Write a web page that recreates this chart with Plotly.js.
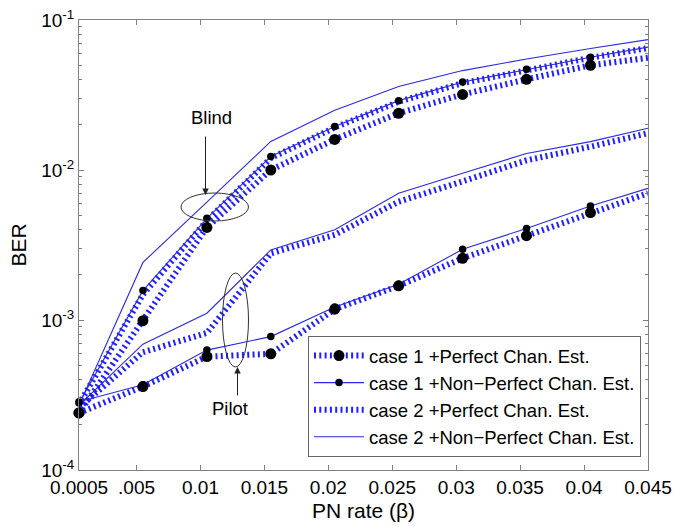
<!DOCTYPE html>
<html><head><meta charset="utf-8">
<script src="https://cdn.plot.ly/plotly-3.0.1.min.js"></script>
<style>html,body{margin:0;padding:0;background:#fff}#chart{width:676px;height:527px}</style>
</head><body><div id="chart"></div>
<script>
// PN rate (beta) sample points; last value is where the curves meet the right edge
const betas = [0.0005, 0.0055, 0.0105, 0.0155, 0.0205, 0.0255, 0.0305, 0.0355, 0.0405, 0.045];

const xTickVals = [0.0005, 0.005, 0.01, 0.015, 0.02, 0.025, 0.03, 0.035, 0.04, 0.045];
const xTickText = ['0.0005', '.005', '0.01', '0.015', '0.02', '0.025', '0.03', '0.035', '0.04', '0.045'];
const yTickVals = [1e-4, 1e-3, 1e-2, 1e-1];
const yTickText = ['10<sup>-4</sup>', '10<sup>-3</sup>', '10<sup>-2</sup>', '10<sup>-1</sup>'];

const seriesNames = [
  'case 1 +Perfect Chan. Est.',
  'case 1 +Non\u2212Perfect Chan. Est.',
  'case 2 +Perfect Chan. Est.',
  'case 2 +Non\u2212Perfect Chan. Est.'
];

// Blind estimation group (upper curves)
const blindCase1Perfect    = [2.4e-4, 9.9e-4, 4.14e-3, 1.00e-2, 1.60e-2, 2.39e-2, 3.19e-2, 4.02e-2, 4.99e-2, 5.6e-2];
const blindCase1NonPerfect = [2.8e-4, 1.57e-3, 4.76e-3, 1.23e-2, 1.95e-2, 2.90e-2, 3.86e-2, 4.69e-2, 5.64e-2, 6.6e-2];
const blindCase2Perfect    = [2.75e-4, 1.48e-3, 4.6e-3, 1.20e-2, 1.92e-2, 2.85e-2, 3.80e-2, 4.65e-2, 5.60e-2, 6.5e-2];
const blindCase2NonPerfect = [2.7e-4, 2.42e-3, 6.1e-3, 1.55e-2, 2.50e-2, 3.60e-2, 4.60e-2, 5.50e-2, 6.45e-2, 7.4e-2];

// Pilot estimation group (lower curves)
const pilotCase1Perfect    = [2.4e-4, 3.6e-4, 5.7e-4, 5.95e-4, 1.18e-3, 1.69e-3, 2.58e-3, 3.65e-3, 5.2e-3, 7.0e-3];
const pilotCase1NonPerfect = [2.85e-4, 3.7e-4, 6.3e-4, 7.75e-4, 1.22e-3, 1.73e-3, 2.96e-3, 4.08e-3, 5.75e-3, 7.55e-3];
const pilotCase2Perfect    = [2.6e-4, 6.1e-4, 8.2e-4, 2.78e-3, 3.7e-3, 6.15e-3, 8.4e-3, 1.16e-2, 1.43e-2, 1.76e-2];
const pilotCase2NonPerfect = [2.7e-4, 6.9e-4, 1.11e-3, 2.93e-3, 4.0e-3, 7.0e-3, 9.5e-3, 1.29e-2, 1.545e-2, 1.9e-2];

const SOLID = '#2a2ae0';
const DOTTED = '#1e1eff';
const DOT_DASH = '2px,3.3px';
const markerIdx = betas.map((b, i) => i).filter(i => betas[i] <= 0.041);

function styleFor(k) {
  if (k === 0) return {mode: 'lines+markers', line: {color: DOTTED, width: 6, dash: DOT_DASH}, marker: {color: '#000', size: 11}};
  if (k === 1) return {mode: 'lines+markers', line: {color: SOLID, width: 1.1}, marker: {color: '#000', size: 7.5}};
  if (k === 2) return {mode: 'lines', line: {color: DOTTED, width: 6, dash: DOT_DASH}};
  return {mode: 'lines', line: {color: SOLID, width: 1.1}};
}

const groups = [
  [blindCase1Perfect, blindCase1NonPerfect, blindCase2Perfect, blindCase2NonPerfect],
  [pilotCase1Perfect, pilotCase1NonPerfect, pilotCase2Perfect, pilotCase2NonPerfect]
];
const drawOrder = [3, 2, 1, 0];
const traces = [];
drawOrder.forEach(k => {
  groups.forEach((g, gi) => {
    const st = styleFor(k);
    const t = Object.assign({
      type: 'scatter', x: betas, y: g[k], name: seriesNames[k],
      legendgroup: 'k' + k, showlegend: gi === 0, legendrank: k + 1,
      cliponaxis: false, hoverinfo: 'skip'
    }, st);
    if (st.marker) {
      t.selectedpoints = markerIdx;
      t.unselected = {marker: {opacity: 0}};
    }
    traces.push(t);
  });
});

const PX_L = 79, PX_R = 648, PX_T = 20, PX_B = 470;
const px = v => (v - PX_L) / (PX_R - PX_L);
const py = v => (PX_B - v) / (PX_B - PX_T);

const layout = {
  width: 676, height: 527,
  margin: {l: PX_L, r: 676 - PX_R, t: PX_T, b: 527 - PX_B, pad: 0},
  paper_bgcolor: '#fff', plot_bgcolor: '#fff',
  font: {family: '"Liberation Sans", Arial, sans-serif', color: '#000', size: 19},
  showlegend: true,
  xaxis: {
    range: [0.0005, 0.045], tickmode: 'array', tickvals: xTickVals, ticktext: xTickText,
    showgrid: false, zeroline: false, showline: true, linecolor: '#808080', linewidth: 1,
    mirror: 'ticks', ticks: 'inside', ticklen: 5, tickcolor: '#808080',
    tickfont: {size: 19}, tickangle: 0,
    title: {text: 'PN rate (\u03b2)', font: {size: 21}, standoff: 6}
  },
  yaxis: {
    type: 'log', range: [-4, -1], tickmode: 'array', tickvals: yTickVals, ticktext: yTickText,
    showgrid: false, zeroline: false, showline: true, linecolor: '#808080', linewidth: 1,
    mirror: 'ticks', ticks: 'inside', ticklen: 5, tickcolor: '#808080',
    minor: {ticks: 'inside', ticklen: 3, tickcolor: '#808080', dtick: 'D1', showgrid: false},
    tickfont: {size: 19},
    title: {text: 'BER', font: {size: 21}, standoff: 8}
  },
  legend: {
    x: px(308), y: py(336), xanchor: 'left', yanchor: 'top',
    bgcolor: '#fff', bordercolor: '#666', borderwidth: 1,
    font: {size: 18.5}, itemwidth: 50, tracegroupgap: 0, traceorder: 'normal'
  },
  shapes: [
    {type: 'circle', xref: 'paper', yref: 'paper', x0: px(181), x1: px(248.5), y0: py(221), y1: py(193), line: {color: '#333', width: 1}},
    {type: 'circle', xref: 'paper', yref: 'paper', x0: px(222.5), x1: px(248.5), y0: py(367), y1: py(273), line: {color: '#333', width: 1}}
  ],
  annotations: [
    {xref: 'paper', yref: 'paper', x: px(211), y: py(118), text: 'Blind', showarrow: false, font: {size: 18.5}, xanchor: 'center', yanchor: 'middle'},
    {xref: 'paper', yref: 'paper', x: px(205.5), y: py(195), text: '', showarrow: true, ax: 0, ay: -60, arrowhead: 2, arrowsize: 1.3, arrowwidth: 1, arrowcolor: '#222'},
    {xref: 'paper', yref: 'paper', x: px(230), y: py(408), text: 'Pilot', showarrow: false, font: {size: 18.5}, xanchor: 'center', yanchor: 'middle'},
    {xref: 'paper', yref: 'paper', x: px(237.5), y: py(367), text: '', showarrow: true, ax: 0, ay: 30, arrowhead: 2, arrowsize: 1.3, arrowwidth: 1, arrowcolor: '#222'}
  ]
};

Plotly.newPlot('chart', traces, layout, {displayModeBar: false, staticPlot: true});
</script>
</body></html>
